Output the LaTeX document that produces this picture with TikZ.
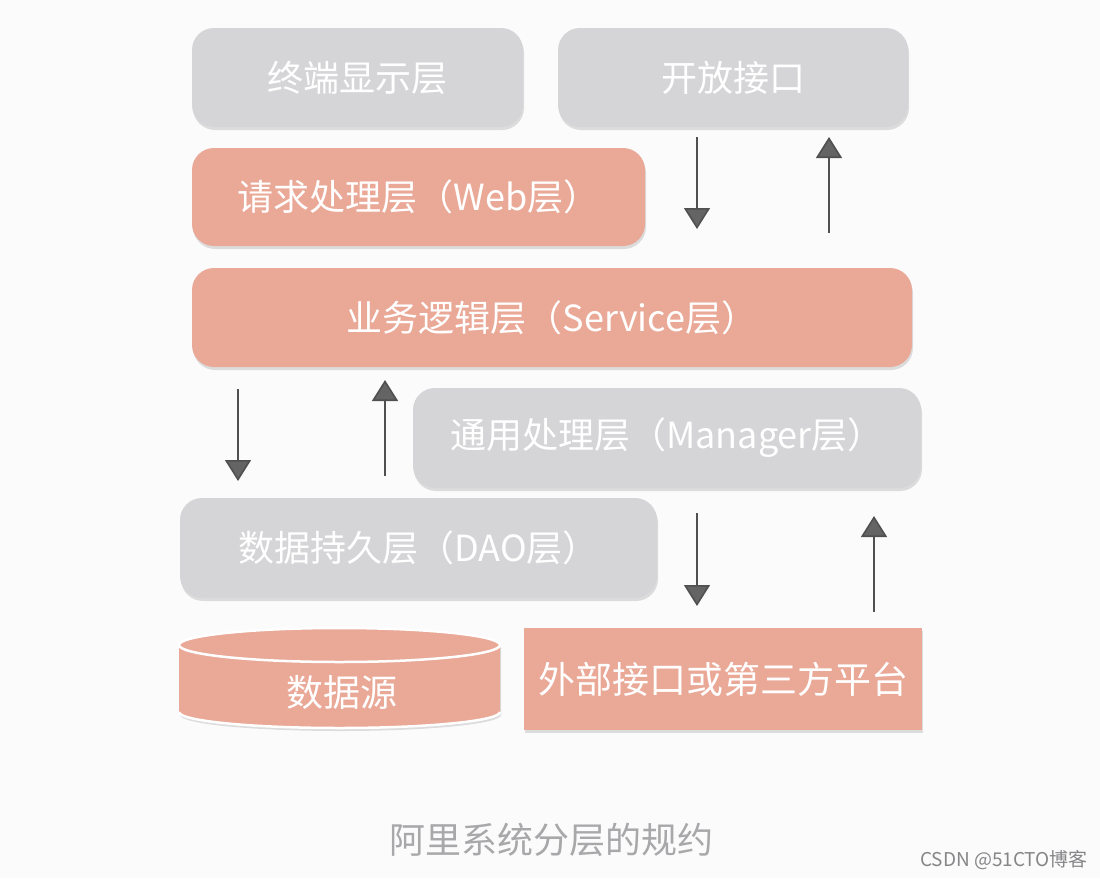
\documentclass[tikz,border=0pt]{standalone}
\usepackage{fontspec}
\newfontfamily\cjk{Noto Sans CJK SC}
\usetikzlibrary{arrows.meta,shadows}
\definecolor{boxgrey}{RGB}{213,212,214}
\definecolor{salmon}{RGB}{234,168,151}
\definecolor{arrgrey}{RGB}{100,100,100}
\definecolor{capgrey}{RGB}{168,168,170}
\definecolor{bgwhite}{RGB}{251,251,252}
\tikzstyle{layer}=[rounded corners=22pt, inner sep=0, text=white, font=\cjk\fontsize{36}{38}\selectfont, drop shadow={shadow xshift=1pt, shadow yshift=-3pt, fill=black, opacity=.12}]
\tikzstyle{gl}=[layer, fill=boxgrey]
\tikzstyle{sl}=[layer, fill=salmon]
\tikzstyle{flow}=[draw=arrgrey!80!black, line width=1.6pt, -{Triangle[width=26pt,length=21pt,fill=arrgrey]}]

\begin{document}
\begin{tikzpicture}[x=1pt, y=-1pt]
\useasboundingbox[fill=bgwhite] (0,0) rectangle (1100,878);
% top row
\node at (357.5,77.5)[gl, minimum width=331pt, minimum height=99pt](term){终端显示层};
\node at (733,77.5)[gl, minimum width=350pt, minimum height=99pt](open){开放接口};
% web and service
\node at (418.5,197)[sl, minimum width=453pt, minimum height=98pt](web){请求处理层（Web层）};
\node at (552,317.5)[sl, minimum width=720pt, minimum height=99pt](svc){业务逻辑层（Service层）};
% manager and dao
\node at (667,438)[gl, minimum width=508pt, minimum height=100pt](mgr){通用处理层（Manager层）};
\node at (418.5,548)[gl, minimum width=477pt, minimum height=100pt](dao){数据持久层（DAO层）};
% data source cylinder
\fill[salmon, drop shadow={shadow xshift=1pt, shadow yshift=-3pt, fill=black, opacity=.12}]
  (179,645) -- (179,712) arc[start angle=180, end angle=360, x radius=160.5, y radius=-16]
  -- (500,645) arc[start angle=0, end angle=180, x radius=160.5, y radius=-17] -- cycle;
\draw[white, line width=2.5pt] (179,712) arc[start angle=180, end angle=360, x radius=160.5, y radius=-16];
\draw[white, line width=2.5pt] (339.5,645) ellipse[x radius=160.5, y radius=17];
\node at (342,692)[text=white, font=\cjk\fontsize{37}{39}\selectfont](src){数据源};
\node at (723,679)[sl, rounded corners=0pt, minimum width=398pt, minimum height=102pt, font=\cjk\fontsize{37}{39}\selectfont](ext){外部接口或第三方平台};
% arrows
\coordinate (a1s) at (697,137); \coordinate (a1e) at (697,229);
\coordinate (a2s) at (829,233); \coordinate (a2e) at (829,137);
\coordinate (a3s) at (238,389); \coordinate (a3e) at (238,481);
\coordinate (a4s) at (385,476); \coordinate (a4e) at (385,380);
\coordinate (a5s) at (697,513); \coordinate (a5e) at (697,606);
\coordinate (a6s) at (874,612); \coordinate (a6e) at (874,516);
\foreach \s/\e in {a1s/a1e, a2s/a2e, a3s/a3e, a4s/a4e, a5s/a5e, a6s/a6e}
  \draw[flow] (\s)--(\e);
% caption
\node at (551,840)[text=capgrey, font=\cjk\fontsize{36}{38}\selectfont](cap){阿里系统分层的规约};
\node at (1004,860)[text=capgrey!80!black, font=\cjk\fontsize{19}{21}\selectfont](wm){CSDN @51CTO博客};
\end{tikzpicture}
\end{document}
